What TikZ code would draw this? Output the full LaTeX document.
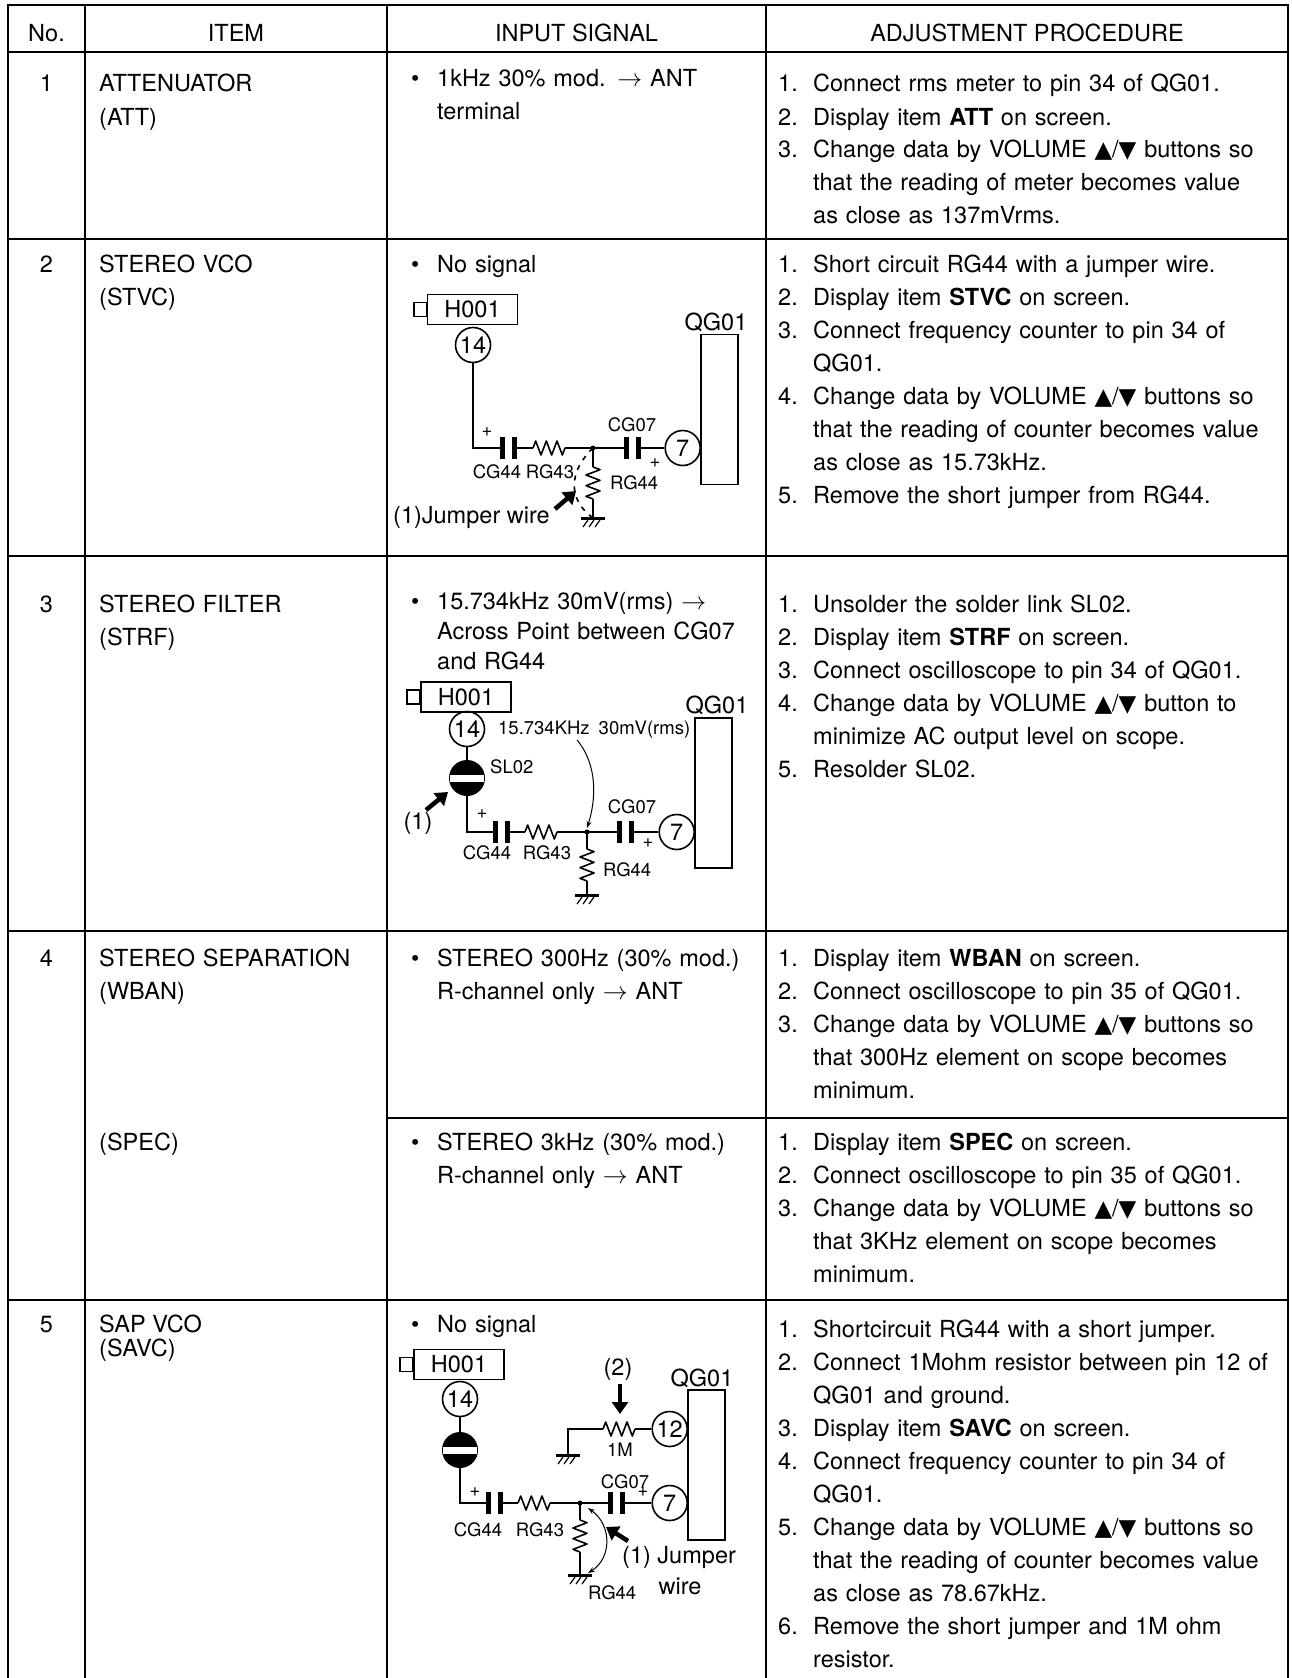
\documentclass[tikz,border=0pt]{standalone}
\usepackage{fontspec}
\setmainfont{TeX Gyre Heros}
\newfontfamily\symfont{DejaVu Sans}
\usetikzlibrary{arrows.meta}

\newcommand{\bodyfont}{\fontsize{23.5}{33}\selectfont}
\newcommand{\smallfont}{\fontsize{18.5}{22}\selectfont}
\newcommand{\updn}{{\symfont\fontsize{23}{23}\selectfont ▲}/{\symfont\fontsize{23}{23}\selectfont ▼}}
\newcommand{\pline}[2]{\makebox[35pt][l]{#1}#2\par}
\newcommand{\iline}[2]{\makebox[26pt][l]{#1}#2\par}

\tikzset{
  tbl/.style={line width=2pt, line cap=rect},
  wire/.style={line width=1.6pt},
  txt/.style={font=\bodyfont, inner sep=0pt},
  lbl/.style={font=\smallfont, inner sep=0pt},
  item/.style={txt, text width=280pt, anchor=base west},
  input/.style={txt, text width=340pt, anchor=base west},
  proc/.style={txt, text width=505pt, anchor=base west},
  pin/.style={circle, draw, line width=1.6pt, minimum size=35pt, inner sep=0pt, font=\bodyfont},
  chip/.style={draw, line width=1.6pt, minimum width=37pt, minimum height=150pt, inner sep=0pt},
  conn/.style={draw, line width=1.6pt, minimum width=90pt, minimum height=30pt, inner sep=0pt, font=\bodyfont},
  slink/.style={circle, fill=black, minimum size=36pt, inner sep=0pt,
    path picture={\fill[white] ([xshift=-17pt,yshift=-3.5pt]path picture bounding box.center)
      rectangle ([xshift=17pt,yshift=3.5pt]path picture bounding box.center);}},
  bigarrow/.style={line width=4.5pt, -{Triangle[length=12pt,width=16pt]}},
  thin/.style={line width=1pt},
  cap/.pic={
    \draw[wire] (0,0) -- (2.5,0) (14.5,0) -- (17,0);
    \draw[line width=5pt] (2.5,-11) -- (2.5,11) (14.5,-11) -- (14.5,11);
  },
  hres/.pic={
    \draw[wire, line join=round] (0,0) -- (2.67,-7) -- (8,7) -- (13.33,-7) -- (18.67,7)
      -- (24,-7) -- (29.33,7) -- (32,0);
  },
  vres/.pic={
    \draw[wire, line join=round] (0,0) -- (7,2.67) -- (-7,8) -- (7,13.33) -- (-7,18.67)
      -- (7,24) -- (-7,29.33) -- (0,32);
  },
  gnd/.pic={
    \draw[line width=3pt] (-12,0) -- (12,0);
    \draw[line width=1.2pt] (-5,2) -- (-10,9) (1,2) -- (-4,9) (7,2) -- (2,9);
  }
}

\begin{document}
\begin{tikzpicture}[x=1pt, y=-1pt]
\useasboundingbox (0,0) rectangle (1291,1678);

% table rules
\foreach \yy in {5,52,239,556,931,1300}
  \draw[tbl] (8,\yy) -- (1288,\yy);
\draw[tbl] (387,1118) -- (1288,1118);
\foreach \xx in {8,85,387,766,1288}
  \draw[tbl] (\xx,5) -- (\xx,1678);

% header
\node[txt, anchor=base] (hno) at (46.5,42) {No.};
\node[txt, anchor=base] (hitem) at (236,42) {ITEM};
\node[txt, anchor=base] (hin) at (576.5,42) {INPUT SIGNAL};
\node[txt, anchor=base] (hadj) at (1027,42) {ADJUSTMENT PROCEDURE};

% row 1
\node[txt, anchor=base] (n1) at (46.5,91) {1};
\node[item] (i1) at (99,92) {ATTENUATOR\par(ATT)};
\node[input] (s1) at (411,86) {\iline{\textbullet}{1kHz 30\% mod. $\rightarrow$ ANT}\iline{}{terminal}};
\node[proc] (a1) at (778,92) {%
  \pline{1.}{Connect rms meter to pin 34 of QG01.}
  \pline{2.}{Display item \textbf{ATT} on screen.}
  \pline{3.}{Change data by VOLUME \updn\ buttons so}
  \pline{}{that the reading of meter becomes value}
  \pline{}{as close as 137mVrms.}};

% row 2
\node[txt, anchor=base] (n2) at (46.5,272) {2};
\node[item] (i2) at (99,272) {STEREO VCO\par(STVC)};
\node[input] (s2) at (411,272) {\iline{\textbullet}{No signal}};
\node[proc] (a2) at (778,272) {%
  \pline{1.}{Short circuit RG44 with a jumper wire.}
  \pline{2.}{Display item \textbf{STVC} on screen.}
  \pline{3.}{Connect frequency counter to pin 34 of}
  \pline{}{QG01.}
  \pline{4.}{Change data by VOLUME \updn\ buttons so}
  \pline{}{that the reading of counter becomes value}
  \pline{}{as close as 15.73kHz.}
  \pline{5.}{Remove the short jumper from RG44.}};

% row 2 circuit
\node[conn] (b-h) at (472.5,309.5) {H001};
\draw[wire] ([yshift=7pt]b-h.west) rectangle ([xshift=-13pt,yshift=-7pt]b-h.west);
\node[pin] (b-14) at (473,345) {14};
\node[chip] (b-q) at (719.5,409.5) {};
\node[txt] (b-ql) at (716,322) {QG01};
\node[pin, anchor=east] (b-7) at (701,448) {7};
\coordinate (b-c1) at (500,448);
\coordinate (b-r1) at (533,448);
\coordinate (b-j) at (593,448);
\coordinate (b-c2) at (624,448);
\coordinate (b-r2) at (593,467);
\coordinate (b-g) at (593,518);
\draw[wire] (b-14) |- (b-c1);
\pic at (b-c1) {cap};
\draw[wire] ([xshift=17pt]b-c1) -- (b-r1);
\pic at (b-r1) {hres};
\draw[wire] ([xshift=32pt]b-r1) -- (b-c2);
\fill (b-j) circle (2.5);
\pic at (b-c2) {cap};
\draw[wire] ([xshift=17pt]b-c2) -- (b-7);
\draw[wire] (b-j) -- (b-r2);
\pic at (b-r2) {vres};
\draw[wire] ([yshift=-32pt]b-r2) -- (b-g);
\pic at (b-g) {gnd};
\draw[wire, dash pattern=on 5pt off 6pt] (b-j) .. controls (568,472) and (568,500) .. (b-g);
\node[lbl] (b-l1) at (497,472) {CG44};
\node[lbl] (b-l2) at (550,472) {RG43};
\node[lbl] (b-l3) at (632,425) {CG07};
\node[lbl, anchor=west] (b-l4) at (610,483) {RG44};
\node[lbl] (b-p1) at (487,432) {+};
\node[lbl] (b-p2) at (655,463) {+};
\coordinate (b-a) at (555,509);
\draw[bigarrow] (b-a) -- ++(21,-18);
\node[txt, anchor=base west] (b-jw) at (393,523) {(1)Jumper wire};

% row 3
\node[txt, anchor=base] (n3) at (46.5,612) {3};
\node[item] (i3) at (99,612) {STEREO FILTER\par(STRF)};
\node[input] (s3) at (411,609) {\fontsize{23.5}{30}\selectfont
  \iline{\textbullet}{15.734kHz 30mV(rms) $\rightarrow$}\iline{}{Across Point between CG07}\iline{}{and RG44}};
\node[proc] (a3) at (778,612) {%
  \pline{1.}{Unsolder the solder link SL02.}
  \pline{2.}{Display item \textbf{STRF} on screen.}
  \pline{3.}{Connect oscilloscope to pin 34 of QG01.}
  \pline{4.}{Change data by VOLUME \updn\ button to}
  \pline{}{minimize AC output level on scope.}
  \pline{5.}{Resolder SL02.}};

% row 3 circuit
\node[conn] (c-h) at (466,697) {H001};
\draw[wire] ([yshift=7pt]c-h.west) rectangle ([xshift=-13pt,yshift=-7pt]c-h.west);
\node[pin] (c-14) at (467,729) {14};
\node[slink] (c-s) at (467,778) {};
\node[lbl, anchor=west] (c-sl) at (490,767) {SL02};
\node[chip] (c-q) at (713.5,793) {};
\node[txt] (c-ql) at (717,705) {QG01};
\node[pin, anchor=east] (c-7) at (695,832) {7};
\coordinate (c-c1) at (493,832);
\coordinate (c-r1) at (525,832);
\coordinate (c-j) at (587,832);
\coordinate (c-c2) at (617,832);
\coordinate (c-r2) at (587,849);
\coordinate (c-g) at (587,895);
\draw[wire] (c-14) -- (c-s);
\draw[wire] (c-s) |- (c-c1);
\pic at (c-c1) {cap};
\draw[wire] ([xshift=17pt]c-c1) -- (c-r1);
\pic at (c-r1) {hres};
\draw[wire] ([xshift=32pt]c-r1) -- (c-c2);
\fill (c-j) circle (2.5);
\pic at (c-c2) {cap};
\draw[wire] ([xshift=17pt]c-c2) -- (c-7);
\draw[wire] (c-j) -- (c-r2);
\pic at (c-r2) {vres};
\draw[wire] ([yshift=-32pt]c-r2) -- (c-g);
\pic at (c-g) {gnd};
\node[lbl, anchor=west] (c-sig) at (498,730) {15.734KHz\hspace{9pt}30mV(rms)};
\coordinate (c-st) at (577,740);
\draw[thin, -{Stealth[length=7pt,width=5pt]}] (c-st) .. controls (598,765) and (596,800) .. ([yshift=4pt]c-j);
\node[lbl] (c-l1) at (487,853) {CG44};
\node[lbl] (c-l2) at (547,853) {RG43};
\node[lbl] (c-l3) at (632,807) {CG07};
\node[lbl, anchor=west] (c-l4) at (603,870) {RG44};
\node[lbl] (c-p1) at (482,814) {+};
\node[lbl] (c-p2) at (648,843) {+};
\coordinate (c-a) at (426,810);
\draw[bigarrow] (c-a) -- ++(22,-18);
\node[txt] (c-n1) at (418,823) {(1)};

% row 4
\node[txt, anchor=base] (n4) at (46.5,966) {4};
\node[item] (i4) at (99,966) {STEREO SEPARATION\par(WBAN)};
\node[input] (s4) at (411,966) {\iline{\textbullet}{STEREO 300Hz (30\% mod.)}\iline{}{R-channel only $\rightarrow$ ANT}};
\node[proc] (a4) at (778,966) {%
  \pline{1.}{Display item \textbf{WBAN} on screen.}
  \pline{2.}{Connect oscilloscope to pin 35 of QG01.}
  \pline{3.}{Change data by VOLUME \updn\ buttons so}
  \pline{}{that 300Hz element on scope becomes}
  \pline{}{minimum.}};
\node[item] (i4b) at (99,1150) {(SPEC)};
\node[input] (s4b) at (411,1150) {\iline{\textbullet}{STEREO 3kHz (30\% mod.)}\iline{}{R-channel only $\rightarrow$ ANT}};
\node[proc] (a4b) at (778,1150) {%
  \pline{1.}{Display item \textbf{SPEC} on screen.}
  \pline{2.}{Connect oscilloscope to pin 35 of QG01.}
  \pline{3.}{Change data by VOLUME \updn\ buttons so}
  \pline{}{that 3KHz element on scope becomes}
  \pline{}{minimum.}};

% row 5
\node[txt, anchor=base] (n5) at (46.5,1332) {5};
\node[txt, anchor=base west] (i5) at (99,1332) {SAP VCO};
\node[txt, anchor=base west] (i5b) at (99,1356) {(SAVC)};
\node[input] (s5) at (411,1332) {\iline{\textbullet}{No signal}};
\node[proc] (a5) at (778,1337) {%
  \pline{1.}{Shortcircuit RG44 with a short jumper.}
  \pline{2.}{Connect 1Mohm resistor between pin 12 of}
  \pline{}{QG01 and ground.}
  \pline{3.}{Display item \textbf{SAVC} on screen.}
  \pline{4.}{Connect frequency counter to pin 34 of}
  \pline{}{QG01.}
  \pline{5.}{Change data by VOLUME \updn\ buttons so}
  \pline{}{that the reading of counter becomes value}
  \pline{}{as close as 78.67kHz.}
  \pline{6.}{Remove the short jumper and 1M ohm}
  \pline{}{resistor.}};

% row 5 circuit
\node[conn] (e-h) at (459,1364.5) {H001};
\draw[wire] ([yshift=7pt]e-h.west) rectangle ([xshift=-13pt,yshift=-7pt]e-h.west);
\node[pin] (e-14) at (460,1399) {14};
\node[slink] (e-s) at (460,1450) {};
\node[chip] (e-q) at (706.5,1465) {};
\node[txt] (e-ql) at (702,1378) {QG01};
\node[pin, anchor=east] (e-7) at (688,1503) {7};
\node[pin, anchor=east] (e-12) at (688,1429) {12};
\coordinate (e-c1) at (486,1503);
\coordinate (e-r1) at (518,1503);
\coordinate (e-j) at (580,1503);
\coordinate (e-c2) at (608,1503);
\coordinate (e-r2) at (580,1520);
\coordinate (e-g) at (580,1575);
\coordinate (e-r3) at (603,1429);
\coordinate (e-g2) at (568,1455);
\draw[wire] (e-14) -- (e-s);
\draw[wire] (e-s) |- (e-c1);
\pic at (e-c1) {cap};
\draw[wire] ([xshift=17pt]e-c1) -- (e-r1);
\pic at (e-r1) {hres};
\draw[wire] ([xshift=32pt]e-r1) -- (e-c2);
\fill (e-j) circle (2.5);
\pic at (e-c2) {cap};
\draw[wire] ([xshift=17pt]e-c2) -- (e-7);
\draw[wire] (e-j) -- (e-r2);
\pic at (e-r2) {vres};
\draw[wire] ([yshift=-32pt]e-r2) -- (e-g);
\pic at (e-g) {gnd};
\pic at (e-r3) {hres};
\draw[wire] ([xshift=32pt]e-r3) -- (e-12);
\draw[wire] (e-r3) -| (e-g2);
\pic at (e-g2) {gnd};
\coordinate (e-a2) at (620,1384);
\draw[bigarrow] (e-a2) -- ++(0,30);
\node[txt] (e-n2) at (618,1369) {(2)};
\node[lbl] (e-1m) at (620,1450) {1M};
\draw[thin, {Stealth[length=7pt,width=5pt]}-{Stealth[length=7pt,width=5pt]}]
  (588,1508) .. controls (612,1525) and (612,1558) .. (588,1573);
\coordinate (e-a1) at (628,1541);
\draw[bigarrow] (e-a1) -- ++(-22,-14);
\node[txt, anchor=west] (e-jw) at (622,1557) {(1) Jumper};
\node[txt] (e-w) at (680,1586) {wire};
\node[lbl] (e-l1) at (478,1530) {CG44};
\node[lbl] (e-l2) at (540,1530) {RG43};
\node[lbl] (e-l3) at (625,1482) {CG07};
\node[lbl, anchor=west] (e-l4) at (588,1593) {RG44};
\node[lbl] (e-p1) at (475,1492) {+};
\node[lbl] (e-p2) at (643,1492) {+};
\end{tikzpicture}
\end{document}
